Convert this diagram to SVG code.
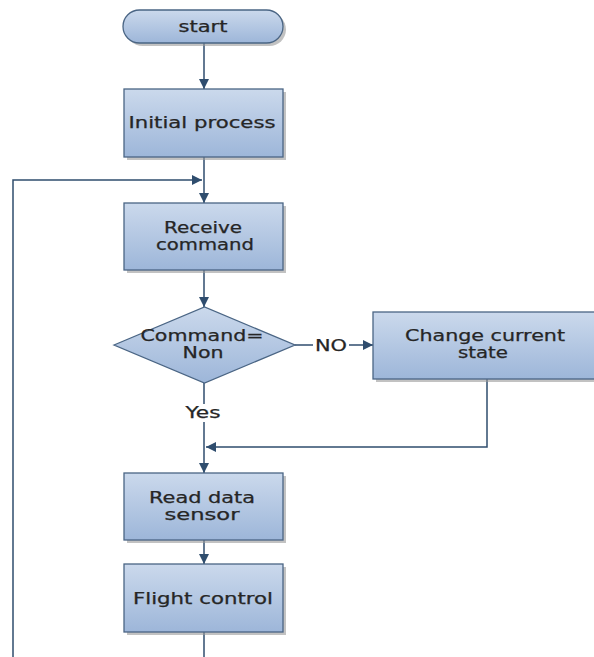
<svg xmlns="http://www.w3.org/2000/svg" width="594" height="657" viewBox="0 0 594 657">
<defs>
<linearGradient id="g" x1="0" y1="0" x2="0" y2="1">
<stop offset="0" stop-color="#cbd9ec"/>
<stop offset="1" stop-color="#9db6d9"/>
</linearGradient>
<marker id="ah" viewBox="0 0 10 10" refX="10" refY="5" markerWidth="10" markerHeight="10" markerUnits="userSpaceOnUse" orient="auto">
<path d="M0,0 L10,5 L0,10 Z" fill="#2f4d6e"/>
</marker>
</defs>
<style>
.sh{fill:#9a9a9a;opacity:0.6}
.n{fill:url(#g);stroke:#4a6584;stroke-width:1.3}
.t{font-family:"DejaVu Sans","Noto Sans",sans-serif;font-size:15px;fill:#262626;stroke:#262626;stroke-width:0.25;text-anchor:middle}
.c{fill:none;stroke:#2f4d6e;stroke-width:1.5}
</style>
<rect width="594" height="657" fill="#fff"/>
<g id="connectors">
<path class="c" d="M204,43 V89" marker-end="url(#ah)"/>
<path class="c" d="M204,157 V203" marker-end="url(#ah)"/>
<path class="c" d="M13,657 V180 H202" marker-end="url(#ah)"/>
<path class="c" d="M204,270 V307" marker-end="url(#ah)"/>
<path class="c" d="M295,345 H373" marker-end="url(#ah)"/>
<path class="c" d="M487,379 V447 H206" marker-end="url(#ah)"/>
<path class="c" d="M204,383 V473" marker-end="url(#ah)"/>
<path class="c" d="M204,540 V564" marker-end="url(#ah)"/>
<path class="c" d="M204,632 V657"/>
<rect x="313" y="337" width="36" height="17" fill="#fff"/>
<text class="t" x="331" y="351" textLength="32" lengthAdjust="spacingAndGlyphs">NO</text>
<rect x="185" y="404" width="38" height="18" fill="#fff"/>
<text class="t" x="203" y="418" textLength="35" lengthAdjust="spacingAndGlyphs">Yes</text>
</g>
<g id="start">
<rect class="sh" x="126" y="13" width="160" height="33" rx="16.5"/>
<rect class="n" x="123" y="10" width="160" height="33" rx="16.5"/>
<text class="t" x="203" y="32" textLength="49" lengthAdjust="spacingAndGlyphs">start</text>
</g>
<g id="initial">
<rect class="sh" x="127" y="92" width="159" height="68"/>
<rect class="n" x="124" y="89" width="159" height="68"/>
<text class="t" x="202" y="128" textLength="147" lengthAdjust="spacingAndGlyphs">Initial process</text>
</g>
<g id="receive">
<rect class="sh" x="127" y="206" width="159" height="67"/>
<rect class="n" x="124" y="203" width="159" height="67"/>
<text class="t" x="203" y="233" textLength="78" lengthAdjust="spacingAndGlyphs">Receive</text>
<text class="t" x="205" y="250" textLength="98" lengthAdjust="spacingAndGlyphs">command</text>
</g>
<g id="decision">
<polygon class="n" points="114,345 204.5,307 295,345 204.5,383"/>
<text class="t" x="202" y="341" textLength="123" lengthAdjust="spacingAndGlyphs">Command=</text>
<text class="t" x="203" y="358" textLength="41" lengthAdjust="spacingAndGlyphs">Non</text>
</g>
<g id="change">
<rect class="sh" x="376" y="315" width="225" height="67"/>
<rect class="n" x="373" y="312" width="225" height="67"/>
<text class="t" x="485" y="341" textLength="160" lengthAdjust="spacingAndGlyphs">Change current</text>
<text class="t" x="483" y="358" textLength="50" lengthAdjust="spacingAndGlyphs">state</text>
</g>
<g id="read">
<rect class="sh" x="127" y="476" width="159" height="67"/>
<rect class="n" x="124" y="473" width="159" height="67"/>
<text class="t" x="202" y="503" textLength="106" lengthAdjust="spacingAndGlyphs">Read data</text>
<text class="t" x="202" y="520" textLength="75" lengthAdjust="spacingAndGlyphs">sensor</text>
</g>
<g id="flight">
<rect class="sh" x="127" y="567" width="159" height="68"/>
<rect class="n" x="124" y="564" width="159" height="68"/>
<text class="t" x="203" y="604" textLength="140" lengthAdjust="spacingAndGlyphs">Flight control</text>
</g>
</svg>
